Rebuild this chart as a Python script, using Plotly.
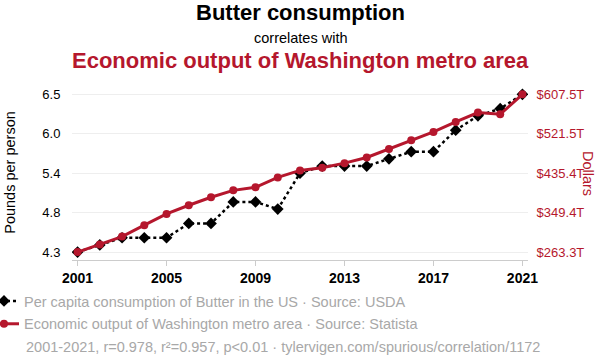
import plotly.graph_objects as go

years = list(range(2001, 2022))
butter = [4.3, 4.4, 4.5, 4.5, 4.5, 4.7, 4.7, 5.0, 5.0, 4.9, 5.4, 5.5, 5.5, 5.5, 5.6, 5.7, 5.7, 6.0, 6.2, 6.3, 6.5]
econ = [263.3, 280.0, 297.2, 322.0, 346.6, 365.5, 383.0, 398.0, 404.6, 426.3, 441.5, 447.2, 457.4, 469.8,
        488.5, 507.5, 525.5, 547.3, 567.7, 564.0, 607.5]

left_ticks = [4.3, 4.85, 5.4, 5.95, 6.5]
left_labels = ["4.3", "4.8", "5.4", "6.0", "6.5"]
right_ticks = [263.3, 349.35, 435.4, 521.45, 607.5]
right_labels = ["$263.3T", "$349.4T", "$435.4T", "$521.5T", "$607.5T"]
x_ticks = [2001, 2005, 2009, 2013, 2017, 2021]

RED = "#b5172d"
FONT = "Liberation Sans, Arial, sans-serif"
GRAY = "#a8a8a8"

lo, hi = 4.19, 6.63
k = (607.5 - 263.3) / (6.5 - 4.3)
rlo = 263.3 + (lo - 4.3) * k
rhi = 263.3 + (hi - 4.3) * k

W, H = 600, 360
plot_l, plot_r, plot_t, plot_b = 72, 528, 85, 260

fig = go.Figure()
fig.add_trace(go.Scatter(
    x=years, y=econ, yaxis="y2", mode="lines+markers",
    name="Economic output of Washington metro area · Source: Statista",
    line=dict(color=RED, width=3), marker=dict(color=RED, size=8, symbol="circle"),
    legendrank=2, legendgroup="b",
))
fig.add_trace(go.Scatter(
    x=years, y=butter, mode="lines+markers",
    name="Per capita consumption of Butter in the US · Source: USDA",
    line=dict(color="black", width=2.5, dash="dot"), marker=dict(color="black", size=9, symbol="diamond"),
    legendrank=1, legendgroup="a",
))

def px2paper(px, py):
    return (px - plot_l) / (plot_r - plot_l), (plot_b - py) / (plot_b - plot_t)

anns = []
for text, px, py, size, color in [
    ("<b>Butter consumption</b>", 300, 13, 22, "black"),
    ("correlates with", 300, 38, 14.5, "black"),
    ("<b>Economic output of Washington metro area</b>", 300, 60, 22, RED),
]:
    ax, ay = px2paper(px, py)
    anns.append(dict(text=text, x=ax, y=ay, xref="paper", yref="paper", showarrow=False,
                     xanchor="center", yanchor="middle", font=dict(size=size, family=FONT, color=color)))
ax, ay = px2paper(24, 347)
anns.append(dict(text="2001-2021, r=0.978, r²=0.957, p<0.01 · tylervigen.com/spurious/correlation/1172",
                 x=ax, y=ay, xref="paper", yref="paper", showarrow=False, xanchor="left", yanchor="middle",
                 font=dict(size=14.5, family=FONT, color=GRAY)))
ax, ay = px2paper(588, 173)
anns.append(dict(text="Dollars", x=ax, y=ay, xref="paper", yref="paper", showarrow=False, textangle=90,
                 xanchor="center", yanchor="middle", font=dict(size=14.5, family=FONT, color=RED)))

lx, ly = px2paper(-16, 285)
fig.update_layout(
    width=W, height=H,
    margin=dict(l=plot_l, r=W - plot_r, t=plot_t, b=H - plot_b, autoexpand=False),
    paper_bgcolor="white", plot_bgcolor="white",
    font=dict(family=FONT, color="black"),
    showlegend=True,
    legend=dict(
        orientation="v", x=lx, y=ly, xanchor="left", yanchor="top",
        font=dict(size=14.5, color=GRAY, family=FONT), itemwidth=30,
        traceorder="grouped", tracegroupgap=1, bgcolor="rgba(0,0,0,0)",
    ),
    xaxis=dict(
        range=[2000.75, 2021.25], tickvals=x_ticks, ticktext=[str(v) for v in x_ticks],
        tickfont=dict(size=14, family=FONT, color="black", weight="bold"),
        showgrid=False, showline=True, linecolor="#cccccc", linewidth=1,
        ticks="outside", ticklen=5, tickcolor="#cccccc", zeroline=False, automargin=False,
    ),
    yaxis=dict(
        range=[lo, hi], tickvals=left_ticks, ticktext=left_labels,
        tickfont=dict(size=13, family=FONT, color="black"),
        showgrid=True, gridcolor="#eeeeee", zeroline=False, automargin=False,
        ticks="outside", ticklen=8, tickcolor="rgba(0,0,0,0)",
        title=dict(text="Pounds per person", font=dict(size=14.5, family=FONT, color="black"), standoff=23),
    ),
    yaxis2=dict(
        range=[rlo, rhi], tickvals=right_ticks, ticktext=right_labels, overlaying="y", side="right",
        tickfont=dict(size=13, family=FONT, color=RED),
        showgrid=False, zeroline=False, automargin=False,
        ticks="outside", ticklen=5, tickcolor="rgba(0,0,0,0)",
    ),
    annotations=anns,
)

fig.write_html("out.html", post_script="document.body.style.margin='0';",
               config={"displayModeBar": False})
